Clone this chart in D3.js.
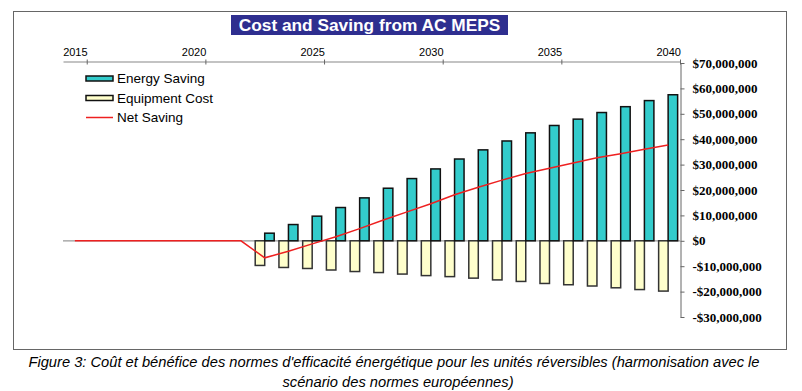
<!DOCTYPE html>
<html>
<head>
<meta charset="utf-8">
<script src="https://cdn.jsdelivr.net/npm/d3@7"></script>
<style>
  body { margin: 0; background: #fff; }
  svg { display: block; }
</style>
</head>
<body>
<svg id="chart" width="802" height="391"></svg>
<script>
// years on the category axis
const years = [2015, 2016, 2017, 2018, 2019, 2020, 2021, 2022, 2023, 2024, 2025, 2026, 2027,
               2028, 2029, 2030, 2031, 2032, 2033, 2034, 2035, 2036, 2037, 2038, 2039, 2040];
// values in $ millions
const energySaving = [0, 0, 0, 0, 0, 0, 0, 0, 3.0, 6.4, 9.7, 13.1, 16.9, 20.7, 24.5, 28.3, 32.2,
                      35.8, 39.3, 42.5, 45.4, 47.9, 50.5, 52.8, 55.2, 57.5];
const equipmentCost = [0, 0, 0, 0, 0, 0, 0, 0, -9.7, -10.5, -10.9, -11.5, -12.1, -12.5, -13.1, -13.7,
                       -14.1, -14.7, -15.4, -16.0, -16.8, -17.3, -17.8, -18.5, -19.2, -19.8];
const netSaving = [0, 0, 0, 0, 0, 0, 0, 0, -6.7, -4.1, -1.2, 1.6, 4.8, 8.2, 11.4, 14.6, 18.1,
                   21.1, 23.9, 26.5, 28.6, 30.6, 32.7, 34.3, 36.0, 37.7];
const topTicks = [2015, 2020, 2025, 2030, 2035, 2040];
const yTicks = [-30e6, -20e6, -10e6, 0, 10e6, 20e6, 30e6, 40e6, 50e6, 60e6, 70e6];
const legendItems = ["Energy Saving", "Equipment Cost", "Net Saving"];

const svg = d3.select('#chart');

// outer frame
svg.append('rect')
    .attr('x', 13.5).attr('y', 11.5)
    .attr('width', 773).attr('height', 338)
    .attr('fill', 'none').attr('stroke', '#666');

const x = d3.scaleBand().domain(years).range([63, 680]).padding(0);
const xTop = d3.scaleLinear().domain([2014, 2040]).range([63, 680]);
const y = d3.scaleLinear().domain([-30e6, 70e6]).range([317, 63]);
const bw = x.bandwidth();
const barW = 9.5;

// title
svg.append('rect')
    .attr('x', 231).attr('y', 15).attr('width', 277).attr('height', 20)
    .attr('fill', '#2e2e8f');
svg.append('text')
    .attr('x', 369.5).attr('y', 31)
    .attr('text-anchor', 'middle')
    .attr('font-family', 'Liberation Sans, Arial, sans-serif')
    .attr('font-weight', 'bold').attr('font-size', 17.3)
    .attr('fill', '#fff')
    .text('Cost and Saving from AC MEPS');

// top year axis
const topAxis = svg.append('g')
    .attr('transform', 'translate(0,61.5)')
    .call(d3.axisBottom(xTop).tickValues(topTicks).tickFormat(d3.format('d')).tickSize(3).tickSizeOuter(0));
topAxis.select('.domain').attr('stroke', '#888').attr('stroke-width', 1.2);
topAxis.selectAll('.tick line').attr('y1', -2).attr('stroke', '#666');
topAxis.selectAll('.tick text')
    .attr('x', -bw / 2).attr('y', -6).attr('dy', 0)
    .attr('font-family', 'Liberation Sans, Arial, sans-serif')
    .attr('font-size', 11).attr('fill', '#000');

// right value axis
const fmt = d => (d < 0 ? '-' : '') + '$' + d3.format(',')(Math.abs(d));
const rightAxis = svg.append('g')
    .attr('transform', 'translate(680.5,0)')
    .call(d3.axisRight(y).tickValues(yTicks).tickFormat(fmt).tickSize(4).tickPadding(8).tickSizeOuter(0));
rightAxis.select('.domain').attr('stroke', '#666');
rightAxis.selectAll('.tick line').attr('stroke', '#666');
rightAxis.selectAll('.tick text')
    .attr('font-family', 'Liberation Serif, Times New Roman, serif')
    .attr('font-weight', 'bold').attr('font-size', 13).attr('fill', '#000');

// zero baseline
svg.append('line')
    .attr('x1', 63).attr('x2', 680)
    .attr('y1', y(0)).attr('y2', y(0))
    .attr('stroke', '#999').attr('stroke-width', 1.2);

const cx = d => x(d) + bw / 2;

// equipment cost bars
svg.append('g').selectAll('rect')
    .data(years.map((yr, i) => ({ yr, v: equipmentCost[i] * 1e6 })).filter(d => d.v !== 0))
    .enter().append('rect')
    .attr('x', d => cx(d.yr) - barW)
    .attr('y', y(0))
    .attr('width', barW)
    .attr('height', d => y(d.v) - y(0))
    .attr('fill', '#ffffcc')
    .attr('stroke', '#333')
    .attr('stroke-width', 1.5);

// energy saving bars
svg.append('g').selectAll('rect')
    .data(years.map((yr, i) => ({ yr, v: energySaving[i] * 1e6 })).filter(d => d.v !== 0))
    .enter().append('rect')
    .attr('x', d => cx(d.yr))
    .attr('y', d => y(d.v))
    .attr('width', barW)
    .attr('height', d => y(0) - y(d.v))
    .attr('fill', '#33cccc')
    .attr('stroke', '#111')
    .attr('stroke-width', 1.5);

// net saving line
const line = d3.line()
    .x((d, i) => cx(years[i]))
    .y(d => y(d * 1e6));
svg.append('path')
    .datum(netSaving)
    .attr('d', line)
    .attr('fill', 'none')
    .attr('stroke', '#ee2020')
    .attr('stroke-width', 1.5);

// legend
const legend = svg.append('g').attr('font-family', 'Liberation Sans, Arial, sans-serif').attr('font-size', 13.5);
legendItems.forEach((name, i) => {
    const ly = 78.5 + i * 19.5;
    if (i < 2) {
        legend.append('rect')
            .attr('x', 86).attr('y', ly - 2.5).attr('width', 27).attr('height', 5)
            .attr('fill', i === 0 ? '#33cccc' : '#ffffcc')
            .attr('stroke', '#111').attr('stroke-width', 1.5);
    } else {
        legend.append('line')
            .attr('x1', 86).attr('x2', 113).attr('y1', ly).attr('y2', ly)
            .attr('stroke', '#ee2020').attr('stroke-width', 1.5);
    }
    legend.append('text')
        .attr('x', 117).attr('y', ly + 4.5)
        .attr('fill', '#000')
        .text(name);
});

// caption
const caption = svg.append('g')
    .attr('font-family', 'Liberation Sans, Arial, sans-serif')
    .attr('font-style', 'italic').attr('font-size', 14.7)
    .attr('text-anchor', 'middle').attr('fill', '#000');
caption.append('text').attr('x', 394).attr('y', 367)
    .text("Figure 3: Coût et bénéfice des normes d'efficacité énergétique pour les unités réversibles (harmonisation avec le");
caption.append('text').attr('x', 398).attr('y', 387)
    .text('scénario des normes européennes)');
</script>
</body>
</html>
